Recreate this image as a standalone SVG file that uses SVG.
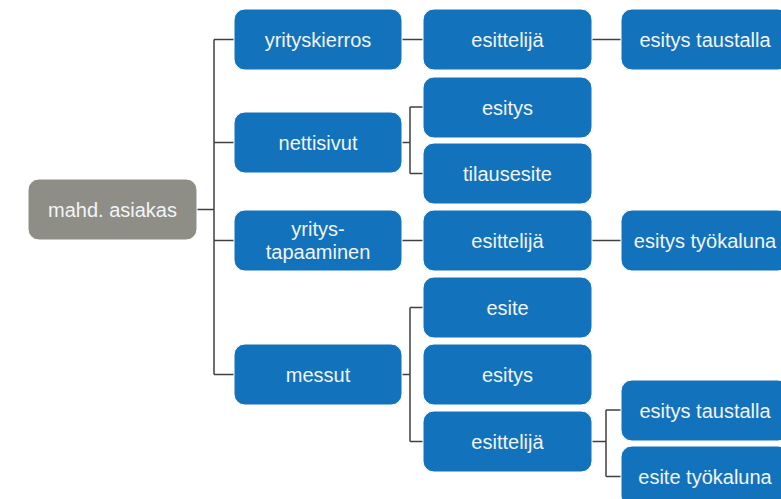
<svg xmlns="http://www.w3.org/2000/svg" width="781" height="499" viewBox="0 0 781 499">
<style>
.b{fill:#1272bb;stroke:#ffffff;stroke-width:1}
.g{fill:#8e8d86;stroke:#ffffff;stroke-width:1}
text{font-family:"Liberation Sans",Arial,sans-serif;font-size:20px;fill:#f2f5f8;text-anchor:middle}
.c{fill:none;stroke:#404040;stroke-width:1.5}
</style>
<rect width="781" height="499" fill="#ffffff"/>
<g id="connectors" class="c">
<path d="M197 209.5H214M214 39.5V374.5M214 39.5H234M214 142.5H234M214 240.5H234M214 374.5H234"/>
<path d="M402 39.5H423M592 39.5H621"/>
<path d="M402 142.5H410M410 107V173.5M410 107H423M410 173.5H423"/>
<path d="M402 240.5H423M592 240.5H621"/>
<path d="M402 374.5H410M410 307.5V441.5M410 307.5H423M410 441.5H423"/>
<path d="M592 441.5H606M606 410V476.5M606 410H621M606 476.5H621"/>
</g>
<g id="root"><rect class="g" x="28" y="179" width="169" height="61" rx="11"/><text x="112.5" y="216.5">mahd. asiakas</text></g>
<g id="yrityskierros"><rect class="b" x="234" y="9" width="168" height="61" rx="11"/><text x="318" y="46.5">yrityskierros</text></g>
<g id="nettisivut"><rect class="b" x="234" y="112" width="168" height="61" rx="11"/><text x="318" y="149.5">nettisivut</text></g>
<g id="yritystapaaminen"><rect class="b" x="234" y="210" width="168" height="61" rx="11"/><text x="318" y="236">yritys-</text><text x="318" y="259">tapaaminen</text></g>
<g id="messut"><rect class="b" x="234" y="344" width="168" height="61" rx="11"/><text x="318" y="381.5">messut</text></g>
<g id="esittelija1"><rect class="b" x="423" y="9" width="169" height="61" rx="11"/><text x="507.5" y="46.5">esittelijä</text></g>
<g id="esitys1"><rect class="b" x="423" y="77" width="169" height="61" rx="11"/><text x="507.5" y="114.5">esitys</text></g>
<g id="tilausesite"><rect class="b" x="423" y="143" width="169" height="61" rx="11"/><text x="507.5" y="180.5">tilausesite</text></g>
<g id="esittelija2"><rect class="b" x="423" y="210" width="169" height="61" rx="11"/><text x="507.5" y="247.5">esittelijä</text></g>
<g id="esite"><rect class="b" x="423" y="277" width="169" height="61" rx="11"/><text x="507.5" y="314.5">esite</text></g>
<g id="esitys2"><rect class="b" x="423" y="344" width="169" height="61" rx="11"/><text x="507.5" y="381.5">esitys</text></g>
<g id="esittelija3"><rect class="b" x="423" y="411" width="169" height="61" rx="11"/><text x="507.5" y="448.5">esittelijä</text></g>
<g id="esitystaustalla1"><rect class="b" x="621" y="9" width="168" height="61" rx="11"/><text x="705" y="46.5">esitys taustalla</text></g>
<g id="esitystyokaluna"><rect class="b" x="621" y="210" width="168" height="61" rx="11"/><text x="705" y="247.5">esitys työkaluna</text></g>
<g id="esitystaustalla2"><rect class="b" x="621" y="380" width="168" height="61" rx="11"/><text x="705" y="417.5">esitys taustalla</text></g>
<g id="esitetyokaluna"><rect class="b" x="621" y="446" width="168" height="61" rx="11"/><text x="705" y="483.5">esite työkaluna</text></g>
</svg>
